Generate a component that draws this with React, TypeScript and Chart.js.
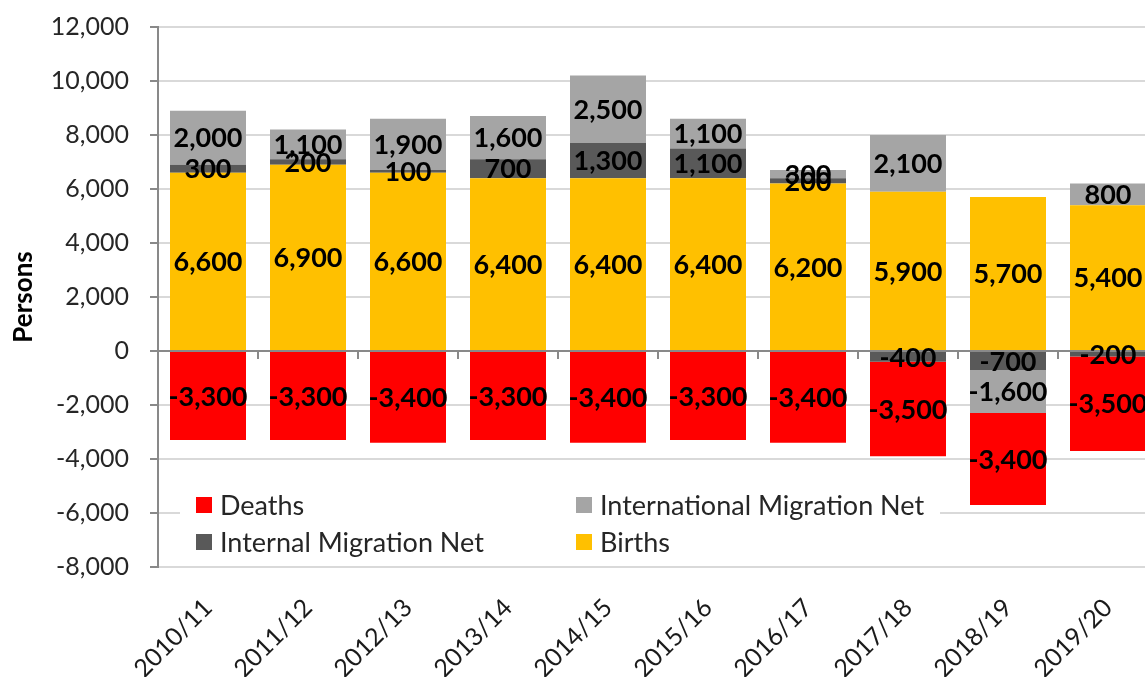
import { useEffect, useRef } from 'react';
import { Chart, registerables } from 'chart.js';

Chart.register(...registerables);

const categories = ['2010/11', '2011/12', '2012/13', '2013/14', '2014/15', '2015/16', '2016/17', '2017/18', '2018/19', '2019/20'];
const births = [6600, 6900, 6600, 6400, 6400, 6400, 6200, 5900, 5700, 5400];
const internalNet = [300, 200, 100, 700, 1300, 1100, 200, -400, -700, -200];
const internationalNet = [2000, 1100, 1900, 1600, 2500, 1100, 300, 2100, -1600, 800];
const deaths = [-3300, -3300, -3400, -3300, -3400, -3300, -3400, -3500, -3400, -3500];
const yMin = -8000;
const yMax = 12000;
const yStep = 2000;

const COLORS = {
  births: '#FFC000',
  internal: '#595959',
  international: '#A5A5A5',
  deaths: '#FF0000',
};

const legendRows = [
  [{ label: 'Deaths', color: COLORS.deaths }, { label: 'International Migration Net', color: COLORS.international }],
  [{ label: 'Internal Migration Net', color: COLORS.internal }, { label: 'Births', color: COLORS.births }],
];

const FONT = 'Lato, "Noto Sans", sans-serif';
const fmt = (v: number) => v.toLocaleString('en-US');

const labelPlugin = {
  id: 'customDraw',
  beforeDatasetsDraw(chart: any) {
    const { ctx, chartArea } = chart;
    const L = chartArea.left;
    ctx.save();
    ctx.fillStyle = '#ffffff';
    ctx.fillRect(L + 22, 485, 760, 75);
    ctx.font = `27px ${FONT}`;
    ctx.textBaseline = 'middle';
    ctx.textAlign = 'left';
    const colX = [L + 38, L + 418];
    const rowY = [505, 542];
    legendRows.forEach((row, r) => {
      row.forEach((item, c) => {
        ctx.fillStyle = item.color;
        ctx.fillRect(colX[c], rowY[r] - 8, 16, 16);
        ctx.fillStyle = '#262626';
        ctx.fillText(item.label, colX[c] + 24, rowY[r] + 1);
      });
    });
    ctx.restore();
  },
  afterDatasetsDraw(chart: any) {
    const { ctx, chartArea, scales } = chart;
    const y0 = scales.y.getPixelForValue(0);
    const xs = scales.x;
    ctx.save();
    ctx.strokeStyle = '#898989';
    ctx.lineWidth = 2;
    ctx.beginPath();
    ctx.moveTo(chartArea.left, y0);
    ctx.lineTo(chartArea.right, y0);
    const half = (xs.getPixelForValue(1) - xs.getPixelForValue(0)) / 2;
    for (let k = 0; k < categories.length; k++) {
      const bx = xs.getPixelForValue(k) + half;
      ctx.moveTo(bx, y0);
      ctx.lineTo(bx, y0 + 8);
    }
    ctx.stroke();

    ctx.font = `bold 27px ${FONT}`;
    ctx.fillStyle = '#000000';
    ctx.textAlign = 'center';
    ctx.textBaseline = 'middle';
    chart.data.datasets.forEach((ds: any, i: number) => {
      const meta = chart.getDatasetMeta(i);
      meta.data.forEach((bar: any, j: number) => {
        const v = ds.data[j];
        if (!v) return;
        const p = bar.getProps(['x', 'y', 'base'], true);
        ctx.fillText(fmt(v), p.x, (p.y + p.base) / 2 + 1);
      });
    });
    ctx.restore();
  },
};

export default function App() {
  const ref = useRef<HTMLCanvasElement | null>(null);
  useEffect(() => {
    if (!ref.current) return;
    const chart = new Chart(ref.current, {
      type: 'bar',
      data: {
        labels: categories,
        datasets: [
          { label: 'Births', data: births, backgroundColor: COLORS.births, stack: 's' },
          { label: 'Internal Migration Net', data: internalNet, backgroundColor: COLORS.internal, stack: 's' },
          { label: 'International Migration Net', data: internationalNet, backgroundColor: COLORS.international, stack: 's' },
          { label: 'Deaths', data: deaths, backgroundColor: COLORS.deaths, stack: 's' },
        ],
      },
      options: {
        responsive: false,
        animation: false,
        devicePixelRatio: 1,
        layout: { padding: { top: 27, right: 2, bottom: 0, left: 0 } },
        datasets: { bar: { barPercentage: 0.76, categoryPercentage: 1 } },
        plugins: { legend: { display: false }, tooltip: { enabled: false } },
        scales: {
          x: {
            stacked: true,
            grid: { display: false },
            border: { display: false },
            ticks: {
              font: { family: FONT, size: 25 },
              color: '#1a1a1a',
              maxRotation: 45,
              minRotation: 45,
              padding: 18,
            },
            afterFit: (s: any) => { s.height = 110; s.paddingTop = 0; s.paddingLeft = 0; s.paddingRight = 0; },
          },
          y: {
            stacked: true,
            min: yMin,
            max: yMax,
            ticks: {
              stepSize: yStep,
              callback: (v: any) => fmt(Number(v)),
              font: { family: FONT, size: 25 },
              color: '#262626',
              padding: 21,
            },
            grid: { color: '#d9d9d9', lineWidth: 2, tickLength: 8, tickColor: '#898989' },
            border: { color: '#898989', width: 2 },
            title: {
              display: true,
              text: 'Persons',
              font: { family: FONT, size: 26, weight: 'bold' },
              color: '#000000',
              padding: { top: 8, bottom: 0 },
            },
            afterFit: (s: any) => { s.width = 158; s.paddingTop = 0; s.paddingBottom = 0; },
          },
        },
      },
      plugins: [labelPlugin],
    } as any);
    return () => chart.destroy();
  }, []);
  return (
    <div style={{ position: 'fixed', left: 0, top: 0, width: 1160, height: 677, background: '#fff' }}>
      <canvas ref={ref} width={1160} height={677} />
    </div>
  );
}
